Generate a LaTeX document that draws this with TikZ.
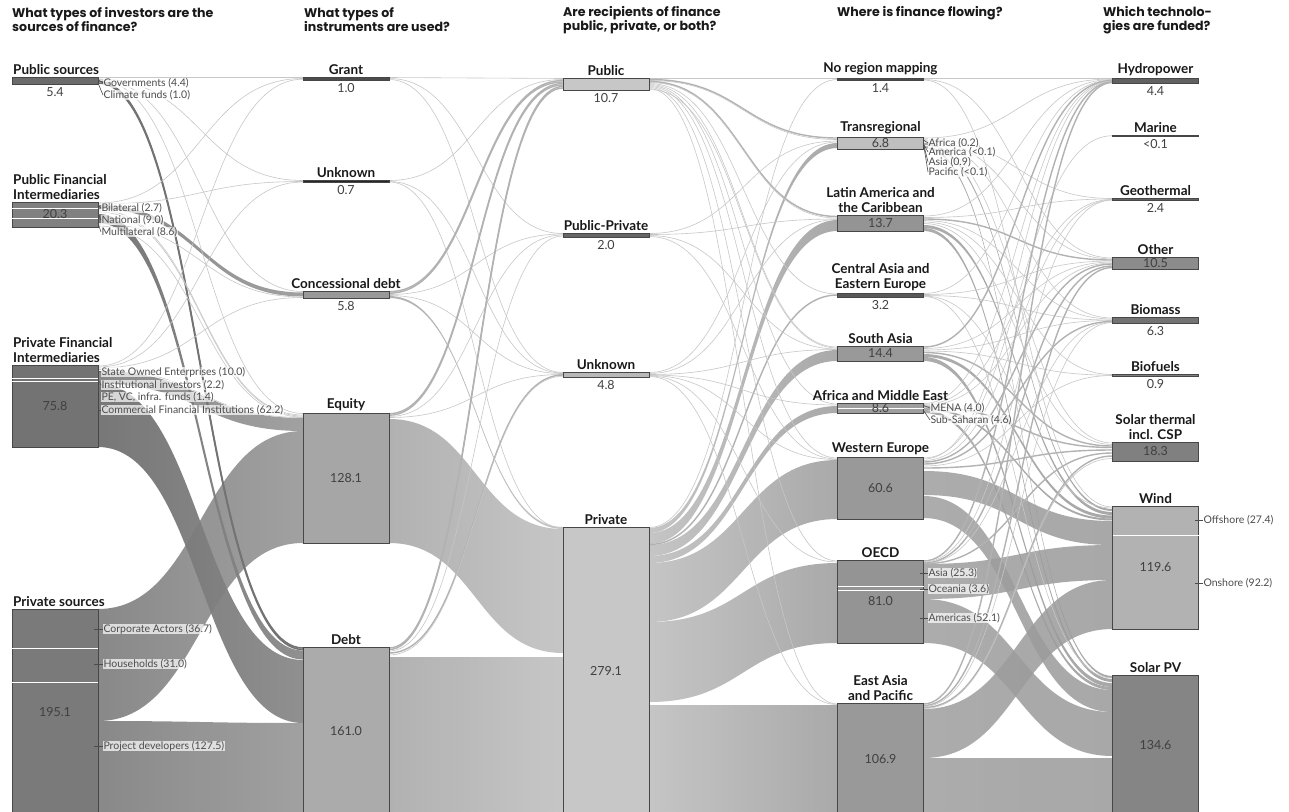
\documentclass[tikz,border=0pt]{standalone}
\usepackage{fontspec}
\setmainfont{Lato}
\newfontfamily\headfont{Poppins}
\usetikzlibrary{positioning,calc,backgrounds}

% band of width #4 from box #2 (offset #3 below its top) to box #5 (offset #6)
\newcommand{\flowband}[6][bandA]{%
  \path (#2.north east) ++(0,#3) coordinate (b1) ++(0,#4) coordinate (b2);
  \path (#5.north west) ++(0,#6) coordinate (b3) ++(0,#4) coordinate (b4);
  \path ($(b1)!0.5!(b3)$) coordinate (bm);
  \shade[#1] (b1) .. controls (bm |- b1) and (bm |- b3) .. (b3) -- (b4)
    .. controls (bm |- b4) and (bm |- b2) .. (b2) -- cycle;}
% single thin flow line
\newcommand{\flowline}[5][thinflow]{%
  \path (#2.north east) ++(0,#3) coordinate (l1);
  \path (#4.north west) ++(0,#5) coordinate (l2);
  \path ($(l1)!0.5!(l2)$) coordinate (lm);
  \draw[#1] (l1) .. controls (lm |- l1) and (lm |- l2) .. (l2);}

\tikzset{
  box/.style={draw=black!72, line width=0.9pt, minimum width=86pt, inner sep=0pt, outer sep=0pt, anchor=north},
  boxtitle/.style={font=\fontsize{13.5}{15}\selectfont\bfseries, text=black!90, align=center, inner sep=1pt},
  value/.style={font=\fontsize{12.5}{13}\selectfont, text=black!75, inner sep=1pt},
  heading/.style={font=\headfont\bfseries\fontsize{12.6}{14}\selectfont, text=black!90, align=left, anchor=west, inner sep=0pt},
  sublabel/.style={font=\fontsize{10.5}{10}\selectfont, text=black!70, fill=white, fill opacity=0.7, text opacity=1, inner sep=0.3pt, anchor=west},
  subtick/.style={draw=black!70, line width=0.6pt},
  divider/.style={draw=white, line width=1pt},
  thinflow/.style={draw=black!22, line width=0.6pt},
  midflow/.style={draw=black!30, line width=1.4pt},
  darkflow/.style={draw=black!55, line width=1.6pt},
  bandA/.style={left color=black!50, right color=black!40, opacity=0.92},
  bandAdark/.style={left color=black!56, right color=black!46, opacity=0.95},
  bandB/.style={left color=black!33, right color=black!24, opacity=0.92},
  bandC/.style={left color=black!25, right color=black!37, opacity=0.9},
  bandD/.style={left color=black!38, right color=black!40, opacity=0.85}
}

\begin{document}
\begin{tikzpicture}[x=1pt, y=-1pt]
\useasboundingbox (0,0) rectangle (1289,811);

% Headings
\node[heading] (head1) at (12,20) {What types of investors are the\\sources of finance?};
\node[heading] (head2) at (304,20) {What types of\\instruments are used?};
\node[heading] (head3) at (563,20) {Are recipients of finance\\public, private, or both?};
\node[heading] (head4) at (837,13) {Where is finance flowing?};
\node[heading] (head5) at (1103,20) {Which technolo-\\gies are funded?};

% Investors
\node[box, fill=black!58, minimum height=7pt] (pubsrc) at (55,77) {};
\node[box, fill=black!50, minimum height=25pt] (pubfi) at (55,202) {};
\node[box, fill=black!55, minimum height=82pt] (privfi) at (55,365) {};
\node[box, fill=black!52, minimum height=206pt] (privsrc) at (55,609) {};

% Instruments
\node[box, fill=black!70, minimum height=3pt] (grant) at (346,77) {};
\node[box, fill=black!85, minimum height=2.5pt] (unk2) at (346,180) {};
\node[box, fill=black!40, minimum height=7pt] (concdebt) at (346,291) {};
\node[box, fill=black!35, minimum height=130pt] (equity) at (346,413) {};
\node[box, fill=black!33, minimum height=168pt] (debt) at (346,647) {};

% Recipients
\node[box, fill=black!22, minimum height=12pt] (public) at (606,78) {};
\node[box, fill=black!60, minimum height=4pt] (pubpriv) at (606,233) {};
\node[box, fill=black!28, minimum height=5pt] (unk3) at (606,372) {};
\node[box, fill=black!22, minimum height=288pt] (private) at (606,527) {};

% Regions
\node[box, fill=black!70, minimum height=2.5pt] (noreg) at (880.5,78) {};
\node[box, fill=black!25, minimum height=12pt] (transreg) at (880.5,137) {};
\node[box, fill=black!42, minimum height=16pt] (latam) at (880.5,215) {};
\node[box, fill=black!65, minimum height=4pt] (centasia) at (880.5,293) {};
\node[box, fill=black!40, minimum height=15pt] (southasia) at (880.5,346) {};
\node[box, fill=black!38, minimum height=10pt] (africa) at (880.5,403) {};
\node[box, fill=black!40, minimum height=62pt] (weurope) at (880.5,457) {};
\node[box, fill=black!42, minimum height=83pt] (oecd) at (880.5,560) {};
\node[box, fill=black!40, minimum height=112pt] (eastasia) at (880.5,703) {};

% Technologies
\node[box, fill=black!62, minimum height=5pt] (hydro) at (1155.5,78) {};
\node[box, fill=black!80, minimum height=1.5pt] (marine) at (1155.5,135) {};
\node[box, fill=black!62, minimum height=2.5pt] (geo) at (1155.5,198) {};
\node[box, fill=black!45, minimum height=12pt] (other) at (1155.5,257) {};
\node[box, fill=black!55, minimum height=6pt] (biomass) at (1155.5,317) {};
\node[box, fill=black!50, minimum height=2pt] (biofuels) at (1155.5,374) {};
\node[box, fill=black!50, minimum height=19pt] (solthermal) at (1155.5,442) {};
\node[box, fill=black!30, minimum height=123pt] (wind) at (1155.5,506) {};
\node[box, fill=black!48, minimum height=140pt] (solarpv) at (1155.5,675) {};

\begin{pgfonlayer}{background}
\fill[white] (0,0) rectangle (1289,811);

% Investors -> instruments
\flowband[bandA]{privsrc}{0}{112}{equity}{18}
\flowband[bandA]{privsrc}{112}{96}{debt}{76}
\flowband[bandA]{privfi}{6}{13}{equity}{5}
\flowband[bandAdark]{privfi}{19}{63}{debt}{13}
\flowband[bandA]{pubfi}{3}{4}{concdebt}{1.5}
\flowband[bandAdark]{pubfi}{12}{9}{debt}{3.5}
\flowline{pubsrc}{0.5}{grant}{0.5}
\flowline{pubsrc}{2}{unk2}{0.5}
\flowline{pubsrc}{2.5}{concdebt}{0.5}
\flowline{pubsrc}{3}{equity}{0.5}
\flowline[darkflow]{pubsrc}{4.5}{debt}{1}
\flowline[darkflow]{pubsrc}{6}{debt}{2.5}
\flowline{pubfi}{1}{grant}{1.5}
\flowline{pubfi}{2}{unk2}{1.5}
\flowline{pubfi}{8}{equity}{2}
\flowline{pubfi}{10}{equity}{3}
\flowline{pubfi}{22}{concdebt}{6}
\flowline{pubfi}{24}{equity}{4}
\flowline{privfi}{1}{grant}{2.2}
\flowline{privfi}{2}{unk2}{2}
\flowline{privfi}{3}{concdebt}{6.5}
\flowline{privfi}{4.5}{equity}{4.5}

% Instruments -> recipients
\flowband[bandB]{equity}{6}{124}{private}{2}
\flowband[bandB]{debt}{10}{160}{private}{130}
\flowband[bandB]{concdebt}{5}{2}{private}{0}
\flowline{grant}{0.5}{public}{0.5}
\flowline{grant}{1.5}{pubpriv}{0.5}
\flowline{grant}{2.5}{unk3}{0.5}
\flowline{unk2}{0.5}{public}{1.5}
\flowline{unk2}{1.5}{unk3}{1}
\flowline{unk2}{2}{private}{1}
\flowline[midflow]{concdebt}{0.7}{public}{2.5}
\flowline[midflow]{concdebt}{2.2}{public}{4}
\flowline{concdebt}{3.5}{pubpriv}{1}
\flowline{concdebt}{4.5}{unk3}{1.5}
\flowline[midflow]{equity}{0.7}{public}{5.5}
\flowline[midflow]{equity}{2.2}{public}{7}
\flowline{equity}{3.5}{pubpriv}{2}
\flowline{equity}{4.5}{unk3}{2.5}
\flowline[midflow]{debt}{1}{public}{8.5}
\flowline[midflow]{debt}{2.5}{public}{10}
\flowline{debt}{4}{pubpriv}{3}
\flowline[midflow]{debt}{6}{unk3}{3}
\flowline{debt}{8}{unk3}{4.2}

% Recipients -> regions
\flowband[bandC]{private}{1}{5}{transreg}{6}
\flowband[bandC]{private}{6}{11}{latam}{5}
\flowband[bandC]{private}{18}{11}{southasia}{4}
\flowband[bandC]{private}{29}{7}{africa}{3}
\flowband[bandC]{private}{36}{59}{weurope}{3}
\flowband[bandC]{private}{95}{80}{oecd}{3}
\flowband[bandC]{private}{178}{112}{eastasia}{2}
\flowline[midflow]{private}{17.5}{centasia}{2}
\flowline{private}{0.5}{noreg}{1.5}
\flowline{public}{0.5}{noreg}{0.5}
\flowline[midflow]{public}{1.5}{transreg}{1}
\flowline{public}{2.5}{transreg}{2.5}
\flowline[midflow]{public}{3.5}{latam}{1.5}
\flowline{public}{4.5}{latam}{3}
\flowline{public}{5.5}{centasia}{1}
\flowline{public}{6.5}{southasia}{1}
\flowline{public}{7.5}{africa}{1}
\flowline{public}{8.5}{weurope}{1}
\flowline{public}{9.5}{oecd}{1}
\flowline{public}{10.5}{eastasia}{1}
\flowline{public}{11.5}{southasia}{2}
\flowline{pubpriv}{0.5}{transreg}{4}
\flowline{pubpriv}{1.5}{latam}{4}
\flowline{pubpriv}{2.5}{southasia}{3}
\flowline{pubpriv}{3.5}{weurope}{2}
\flowline{unk3}{0.5}{transreg}{5}
\flowline{unk3}{1.5}{latam}{4.5}
\flowline{unk3}{2.5}{southasia}{3.5}
\flowline{unk3}{3}{africa}{2}
\flowline{unk3}{3.5}{weurope}{2.5}
\flowline{unk3}{4}{oecd}{2}
\flowline{unk3}{4.5}{eastasia}{1.5}

% Regions -> technologies
\flowband[bandD]{transreg}{6}{2}{wind}{3}
\flowband[bandD]{transreg}{9}{2}{solarpv}{1}
\flowband[bandD]{latam}{10}{3}{wind}{6}
\flowband[bandD]{latam}{13}{3}{solarpv}{4}
\flowband[bandD]{southasia}{8}{3}{wind}{9.5}
\flowband[bandD]{southasia}{11}{4}{solarpv}{8}
\flowband[bandD]{africa}{5}{2}{wind}{12.5}
\flowband[bandD]{africa}{7}{3}{solarpv}{12}
\flowband[bandD]{weurope}{14}{24}{wind}{15}
\flowband[bandD]{weurope}{39}{22}{solarpv}{15}
\flowband[bandD]{oecd}{4}{35}{wind}{39}
\flowband[bandD]{oecd}{39}{44}{solarpv}{37}
\flowband[bandD]{eastasia}{6}{49}{wind}{74}
\flowband[bandD]{eastasia}{55}{62}{solarpv}{83}
\flowline{noreg}{0.5}{hydro}{0.5}
\flowline{noreg}{1.5}{other}{1}
\flowline{noreg}{2}{wind}{1}
\flowline{transreg}{1}{hydro}{1}
\flowline{transreg}{2}{geo}{0.5}
\flowline{transreg}{3}{other}{2}
\flowline{transreg}{4}{biomass}{1}
\flowline{transreg}{5}{solthermal}{1}
\flowline{latam}{1}{hydro}{1.5}
\flowline{latam}{2.5}{geo}{1}
\flowline[midflow]{latam}{4}{other}{3}
\flowline{latam}{5.5}{biomass}{2}
\flowline{latam}{7}{biofuels}{0.5}
\flowline{latam}{8.5}{solthermal}{2.5}
\flowline{centasia}{0.5}{hydro}{2}
\flowline{centasia}{1.5}{other}{4}
\flowline{centasia}{2.5}{biomass}{3}
\flowline{centasia}{3}{wind}{2}
\flowline{centasia}{3.5}{solarpv}{3}
\flowline[midflow]{southasia}{1}{hydro}{2.5}
\flowline{southasia}{2.5}{other}{5}
\flowline{southasia}{4}{biomass}{3.5}
\flowline{southasia}{5}{biofuels}{1.2}
\flowline[midflow]{southasia}{6.5}{solthermal}{4}
\flowline{africa}{0.5}{hydro}{3}
\flowline{africa}{1.5}{geo}{1.5}
\flowline{africa}{2.5}{other}{6}
\flowline[midflow]{africa}{3.8}{solthermal}{5.5}
\flowline{weurope}{1}{marine}{0.7}
\flowline{weurope}{2}{hydro}{3.5}
\flowline{weurope}{3.5}{geo}{2}
\flowline[midflow]{weurope}{5}{other}{7}
\flowline[midflow]{weurope}{7}{biomass}{4.5}
\flowline{weurope}{9}{biofuels}{1.5}
\flowline[midflow]{weurope}{11}{solthermal}{8}
\flowline[midflow]{oecd}{1}{hydro}{4}
\flowline{oecd}{2}{geo}{2}
\flowline[midflow]{oecd}{3}{other}{9}
\flowline{oecd}{3.5}{biomass}{5}
\flowline[midflow]{oecd}{3.8}{solthermal}{11}
\flowline[midflow]{eastasia}{1}{hydro}{4.5}
\flowline[midflow]{eastasia}{2.5}{other}{10.5}
\flowline{eastasia}{3.5}{biomass}{5.5}
\flowline[midflow]{eastasia}{4.5}{solthermal}{14}
\flowline{eastasia}{5.5}{solthermal}{16.5}
\end{pgfonlayer}

% Dividers inside boxes
\draw[divider] ([yshift=-6pt]pubfi.north west) -- ([yshift=-6pt]pubfi.north east);
\draw[divider] ([yshift=-16pt]pubfi.north west) -- ([yshift=-16pt]pubfi.north east);
\draw[divider] ([yshift=-13pt]privfi.north west) -- ([yshift=-13pt]privfi.north east);
\draw[divider] ([yshift=-16pt]privfi.north west) -- ([yshift=-16pt]privfi.north east);
\draw[divider] ([yshift=-39pt]privsrc.north west) -- ([yshift=-39pt]privsrc.north east);
\draw[divider] ([yshift=-73pt]privsrc.north west) -- ([yshift=-73pt]privsrc.north east);
\draw[divider] ([yshift=-5pt]africa.north west) -- ([yshift=-5pt]africa.north east);
\draw[divider] ([yshift=-26pt]oecd.north west) -- ([yshift=-26pt]oecd.north east);
\draw[divider] ([yshift=-30pt]oecd.north west) -- ([yshift=-30pt]oecd.north east);
\draw[divider] ([yshift=-29pt]wind.north west) -- ([yshift=-29pt]wind.north east);

% Box titles
\node[boxtitle, anchor=south west, align=left] (pubsrc-t) at ([yshift=1.5pt]pubsrc.north west) {Public sources};
\node[boxtitle, anchor=south west, align=left] (pubfi-t) at ([yshift=1.5pt]pubfi.north west) {Public Financial\\Intermediaries};
\node[boxtitle, anchor=south west, align=left] (privfi-t) at ([yshift=1.5pt]privfi.north west) {Private Financial\\Intermediaries};
\node[boxtitle, anchor=south west, align=left] (privsrc-t) at ([yshift=1.5pt]privsrc.north west) {Private sources};
\node[boxtitle, above=1.5pt of grant] (grant-t) {Grant};
\node[boxtitle, above=1.5pt of unk2] (unk2-t) {Unknown};
\node[boxtitle, above=1.5pt of concdebt] (concdebt-t) {Concessional debt};
\node[boxtitle, above=1.5pt of equity] (equity-t) {Equity};
\node[boxtitle, above=1.5pt of debt] (debt-t) {Debt};
\node[boxtitle, above=1.5pt of public] (public-t) {Public};
\node[boxtitle, above=1.5pt of pubpriv] (pubpriv-t) {Public-Private};
\node[boxtitle, above=1.5pt of unk3] (unk3-t) {Unknown};
\node[boxtitle, above=1.5pt of private] (private-t) {Private};
\node[boxtitle, above=1.5pt of noreg] (noreg-t) {No region mapping};
\node[boxtitle, above=1.5pt of transreg] (transreg-t) {Transregional};
\node[boxtitle, above=1.5pt of latam] (latam-t) {Latin America and\\the Caribbean};
\node[boxtitle, above=1.5pt of centasia] (centasia-t) {Central Asia and\\Eastern Europe};
\node[boxtitle, above=1.5pt of southasia] (southasia-t) {South Asia};
\node[boxtitle, above=1.5pt of africa] (africa-t) {Africa and Middle East};
\node[boxtitle, above=1.5pt of weurope] (weurope-t) {Western Europe};
\node[boxtitle, above=1.5pt of oecd] (oecd-t) {OECD};
\node[boxtitle, above=1.5pt of eastasia] (eastasia-t) {East Asia\\and Pacific};
\node[boxtitle, above=1.5pt of hydro] (hydro-t) {Hydropower};
\node[boxtitle, above=1.5pt of marine] (marine-t) {Marine};
\node[boxtitle, above=1.5pt of geo] (geo-t) {Geothermal};
\node[boxtitle, above=1.5pt of other] (other-t) {Other};
\node[boxtitle, above=1.5pt of biomass] (biomass-t) {Biomass};
\node[boxtitle, above=1.5pt of biofuels] (biofuels-t) {Biofuels};
\node[boxtitle, above=1.5pt of solthermal] (solthermal-t) {Solar thermal\\incl. CSP};
\node[boxtitle, above=1.5pt of wind] (wind-t) {Wind};
\node[boxtitle, above=1.5pt of solarpv] (solarpv-t) {Solar PV};

% Values
\node[value, below=2pt of pubsrc] (pubsrc-v) {5.4};
\node[value] (pubfi-v) at (pubfi) {20.3};
\node[value] (privfi-v) at (privfi) {75.8};
\node[value] (privsrc-v) at (privsrc) {195.1};
\node[value, below=2pt of grant] (grant-v) {1.0};
\node[value, below=2pt of unk2] (unk2-v) {0.7};
\node[value, below=2pt of concdebt] (concdebt-v) {5.8};
\node[value] (equity-v) at (equity) {128.1};
\node[value] (debt-v) at (debt) {161.0};
\node[value, below=2pt of public] (public-v) {10.7};
\node[value, below=2pt of pubpriv] (pubpriv-v) {2.0};
\node[value, below=2pt of unk3] (unk3-v) {4.8};
\node[value] (private-v) at (private) {279.1};
\node[value, below=2pt of noreg] (noreg-v) {1.4};
\node[value] (transreg-v) at (transreg) {6.8};
\node[value] (latam-v) at (latam) {13.7};
\node[value, below=2pt of centasia] (centasia-v) {3.2};
\node[value] (southasia-v) at (southasia) {14.4};
\node[value] (africa-v) at (africa) {8.6};
\node[value] (weurope-v) at (weurope) {60.6};
\node[value] (oecd-v) at (oecd) {81.0};
\node[value] (eastasia-v) at (eastasia) {106.9};
\node[value, below=2pt of hydro] (hydro-v) {4.4};
\node[value, below=2pt of marine] (marine-v) {<0.1};
\node[value, below=2pt of geo] (geo-v) {2.4};
\node[value] (other-v) at (other) {10.5};
\node[value, below=2pt of biomass] (biomass-v) {6.3};
\node[value, below=2pt of biofuels] (biofuels-v) {0.9};
\node[value] (solthermal-v) at (solthermal) {18.3};
\node[value] (wind-v) at (wind) {119.6};
\node[value] (solarpv-v) at (solarpv) {134.6};

% Sub-labels
\node[sublabel] (gov) at (103,83) {Governments (4.4)};
\node[sublabel] (climate) at (103,95) {Climate funds (1.0)};
\draw[subtick] ([yshift=-2.5pt]pubsrc.north east) -- (gov.west);
\draw[subtick] ([yshift=-6pt]pubsrc.north east) -- (climate.west);
\node[sublabel] (bilat) at (101,208) {Bilateral (2.7)};
\node[sublabel] (nation) at (101,220) {National (9.0)};
\node[sublabel] (multi) at (101,232) {Multilateral (8.6)};
\draw[subtick] ([yshift=-3pt]pubfi.north east) -- (bilat.west);
\draw[subtick] ([yshift=-11pt]pubfi.north east) -- (nation.west);
\draw[subtick] ([yshift=-21pt]pubfi.north east) -- (multi.west);
\node[sublabel] (soe) at (101,372) {State Owned Enterprises (10.0)};
\node[sublabel] (inst) at (101,385) {Institutional investors (2.2)};
\node[sublabel] (pevc) at (101,397) {PE, VC, infra. funds (1.4)};
\node[sublabel] (cfi) at (101,410) {Commercial Financial Institutions (62.2)};
\draw[subtick] ([yshift=-6pt]privfi.north east) -- (soe.west);
\draw[subtick] ([yshift=-14.5pt]privfi.north east) -- (inst.west);
\draw[subtick] (privfi.east |- cfi.west) -- (cfi.west);
\node[sublabel] (corp) at (103,629) {Corporate Actors (36.7)};
\node[sublabel] (house) at (103,664) {Households (31.0)};
\node[sublabel] (projdev) at (103,746) {Project developers (127.5)};
\draw[subtick] ([xshift=-4pt]privsrc.east |- corp.west) -- (corp.west);
\draw[subtick] ([xshift=-4pt]privsrc.east |- house.west) -- (house.west);
\draw[subtick] ([xshift=-4pt]privsrc.east |- projdev.west) -- (projdev.west);
\node[sublabel] (tr-af) at (928,143) {Africa (0.2)};
\node[sublabel] (tr-am) at (928,152) {America (<0.1)};
\node[sublabel] (tr-as) at (928,162) {Asia (0.9)};
\node[sublabel] (tr-pa) at (928,172) {Pacific (<0.1)};
\draw[subtick] ([yshift=-3pt]transreg.north east) -- (tr-af.west);
\draw[subtick] ([yshift=-7pt]transreg.north east) -- (tr-am.west);
\draw[subtick] ([yshift=-7pt]transreg.north east) -- (tr-as.west);
\draw[subtick] ([yshift=-7pt]transreg.north east) -- (tr-pa.west);
\node[sublabel] (mena) at (930,408) {MENA (4.0)};
\node[sublabel] (subsah) at (930,420) {Sub-Saharan (4.6)};
\draw[subtick] ([yshift=-2.5pt]africa.north east) -- (mena.west);
\draw[subtick] ([yshift=-7.5pt]africa.north east) -- (subsah.west);
\node[sublabel] (oe-as) at (928,573) {Asia (25.3)};
\node[sublabel] (oe-oc) at (928,589) {Oceania (3.6)};
\node[sublabel] (oe-am) at (928,618) {Americas (52.1)};
\draw[subtick] ([xshift=-4pt]oecd.east |- oe-as.west) -- (oe-as.west);
\draw[subtick] ([xshift=-4pt]oecd.east |- oe-oc.west) -- (oe-oc.west);
\draw[subtick] ([xshift=-4pt]oecd.east |- oe-am.west) -- (oe-am.west);
\node[sublabel] (offsh) at (1203,520) {Offshore (27.4)};
\node[sublabel] (onsh) at (1203,583) {Onshore (92.2)};
\draw[subtick] ([xshift=-4pt]wind.east |- offsh.west) -- (offsh.west);
\draw[subtick] ([xshift=-4pt]wind.east |- onsh.west) -- (onsh.west);
\end{tikzpicture}
\end{document}
